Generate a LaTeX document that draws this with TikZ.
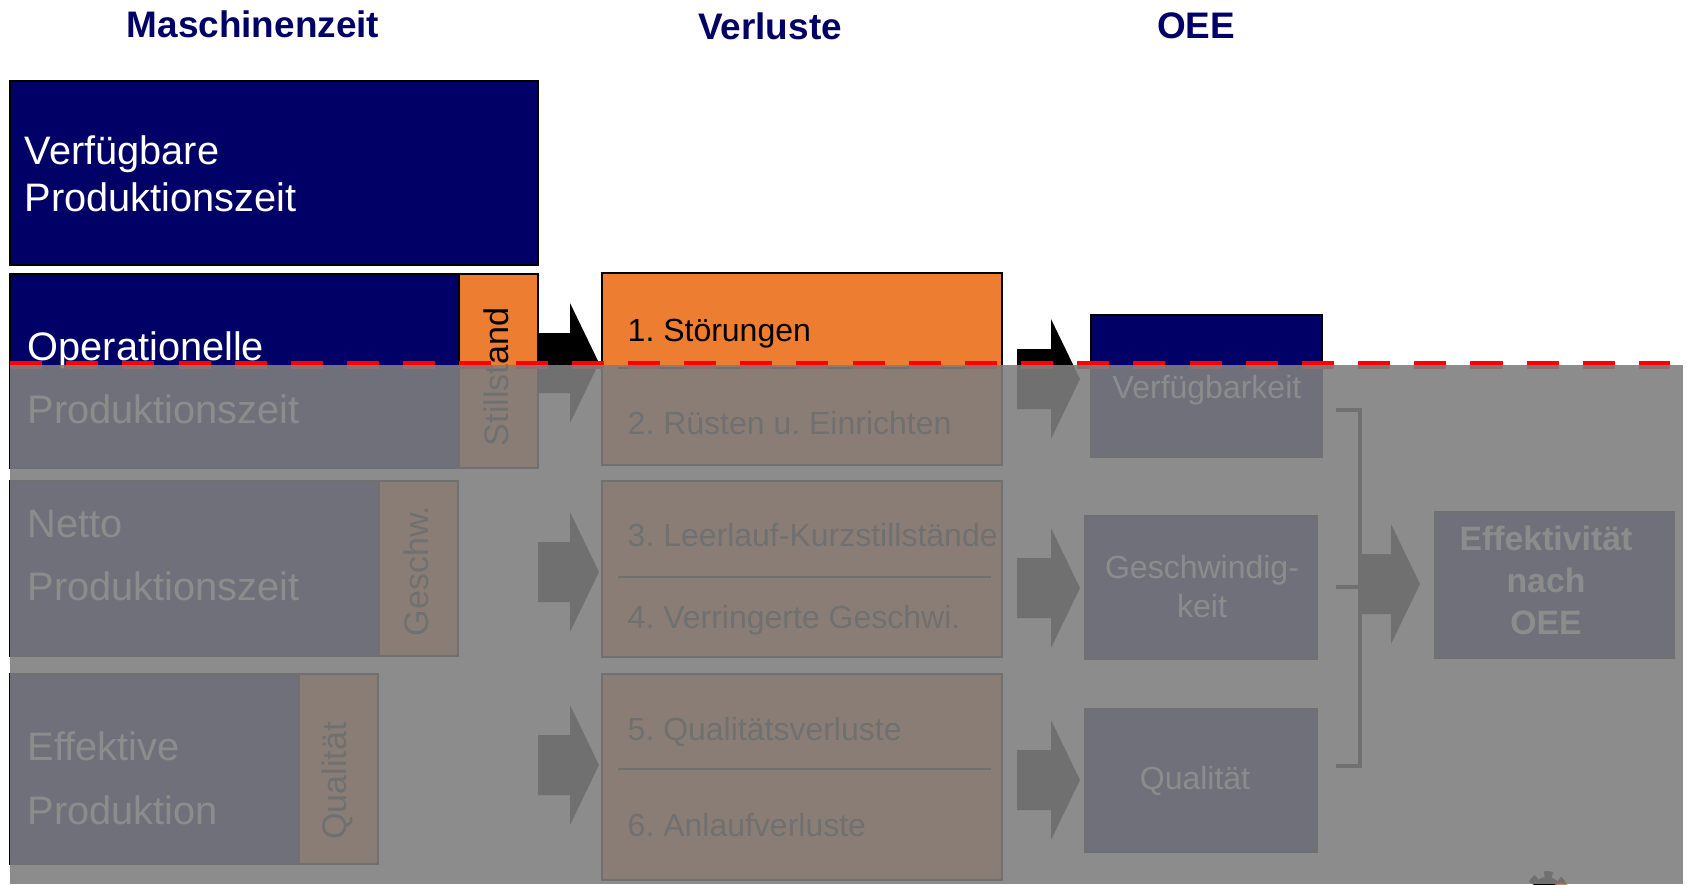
\documentclass[tikz,border=0pt]{standalone}
\usepackage{fontspec}
\setmainfont{Liberation Sans}
\usetikzlibrary{fit}
\frenchspacing
\definecolor{navy}{RGB}{0,0,102}
\definecolor{orng}{RGB}{237,125,49}
\definecolor{veil}{RGB}{126,126,126}
\newcommand{\blkarrow}[4]{%
  \fill[black] (#1,#2-30) -- (#3,#2-30) -- (#3,#2-60) -- (#4,#2) -- (#3,#2+60) -- (#3,#2+30) -- (#1,#2+30) -- cycle;}
\begin{document}
\begin{tikzpicture}[x=0.01cm,y=-0.01cm,
  navybox/.style={draw=black,line width=0.6pt,fill=navy,inner sep=0pt},
  orangebox/.style={draw=black,line width=0.6pt,fill=orng,inner sep=0pt},
  bigtxt/.style={font=\fontsize{11.3}{13}\selectfont,text=white,anchor=base west,inner sep=0pt},
  rottxt/.style={font=\fontsize{9.7}{11}\selectfont,text=black,anchor=base,rotate=90,inner sep=0pt},
  losstxt/.style={font=\fontsize{9.1}{11}\selectfont,text=black,anchor=base west,inner sep=0pt},
  oeetxt/.style={font=\fontsize{9.1}{11}\selectfont,text=white,anchor=base,inner sep=0pt},
  efftxt/.style={font=\fontsize{9.6}{11}\selectfont\bfseries,text=white,anchor=base,inner sep=0pt},
  title/.style={font=\fontsize{10.5}{12}\selectfont\bfseries,text=navy,anchor=base,inner sep=0pt},
  sepline/.style={line width=0.5pt,draw=black},
  ]
\useasboundingbox (0,0) rectangle (1687,884);

% titles
\node[title] (tm) at (253,37) {Maschinenzeit};
\node[title] (tv) at (770,39.5) {Verluste};
\node[title] (to) at (1196,38) {OEE};

% left column
\node[navybox, fit={(10,81) (538,265)}] (b1) {};
\node[bigtxt] (b1a) at (24,164) {Verfügbare};
\node[bigtxt] (b1b) at (24,211) {Produktionszeit};

\node[navybox, fit={(10,274) (459,468)}] (b2) {};
\node[orangebox, fit={(459,274) (538,468)}] (b2s) {};
\node[bigtxt] (b2a) at (27,360) {Operationelle};
\node[bigtxt] (b2b) at (27,423) {Produktionszeit};
\node[rottxt] (b2t) at (508,377) {Stillstand};

\node[navybox, fit={(10,481) (379,656)}] (b3) {};
\node[orangebox, fit={(379,481) (458,656)}] (b3s) {};
\node[bigtxt] (b3a) at (27,537) {Netto};
\node[bigtxt] (b3b) at (27,600) {Produktionszeit};
\node[rottxt] (b3t) at (428,571) {Geschw.};

\node[navybox, fit={(10,674) (299,864)}] (b4) {};
\node[orangebox, fit={(299,674) (378,864)}] (b4s) {};
\node[bigtxt] (b4a) at (27,760) {Effektive};
\node[bigtxt] (b4b) at (27,824) {Produktion};
\node[rottxt] (b4t) at (346,781) {Qualität};

% arrows left -> losses
\blkarrow{538}{363}{570}{599}
\blkarrow{538}{572}{570}{599}
\blkarrow{538}{765}{570}{599}

% losses column
\node[orangebox, fit={(602,273) (1002,465)}] (v1) {};
\draw[sepline] (618,368) -- (991,368);
\node[losstxt] (v1a) at (627,341.5) {1. Störungen};
\node[losstxt] (v1b) at (627,434.5) {2. Rüsten u. Einrichten};

\node[orangebox, fit={(602,481) (1002,657)}] (v2) {};
\draw[sepline] (618,577) -- (991,577);
\node[losstxt] (v2a) at (627,546.5) {3. Leerlauf-Kurzstillstände};
\node[losstxt] (v2b) at (627,628.5) {4. Verringerte Geschwi.};

\node[orangebox, fit={(602,674) (1002,880)}] (v3) {};
\draw[sepline] (618,769) -- (991,769);
\node[losstxt] (v3a) at (627,740) {5. Qualitätsverluste};
\node[losstxt] (v3b) at (627,836) {6. Anlaufverluste};

% arrows losses -> OEE
\blkarrow{1017}{379}{1051}{1080}
\blkarrow{1017}{588}{1051}{1080}
\blkarrow{1017}{780}{1051}{1080}

% OEE column
\node[navybox, fit={(1091,315) (1322,457)}] (o1) {};
\node[oeetxt] (o1t) at (1207,398.5) {Verfügbarkeit};
\node[navybox, fit={(1085,516) (1317,659)}] (o2) {};
\node[oeetxt] (o2a) at (1202,578.5) {Geschwindig-};
\node[oeetxt] (o2b) at (1202,617.5) {keit};
\node[navybox, fit={(1085,709) (1317,852)}] (o3) {};
\node[oeetxt] (o3t) at (1195,789.5) {Qualität};

% bracket
\draw[line width=1.4pt,black] (1336,410) -- (1360,410) -- (1360,766) -- (1336,766);
\draw[line width=1.4pt,black] (1336,587) -- (1360,587);
\blkarrow{1360}{584}{1391}{1420}

\node[navybox, fit={(1435,512) (1674,658)}] (eff) {};
\node[efftxt] (effa) at (1546,550) {Effektivität};
\node[efftxt] (effb) at (1546,592) {nach};
\node[efftxt] (effc) at (1546,634) {OEE};

% small logo fragment
\draw[black, line width=2.2pt, dash pattern=on 2.2pt off 2.2pt] (1547,892) circle (17);
\fill[black] (1547,892) circle (15);
\fill[orng] (1561,896) circle (13);

% red dashed line
\draw[red, line width=2.5pt, dash pattern=on 0.32cm off 0.2414cm] (10,365) -- (1670,365);

% grey veil
\fill[veil, opacity=0.89] (10,365) rectangle (1683,884);
\end{tikzpicture}
\end{document}
